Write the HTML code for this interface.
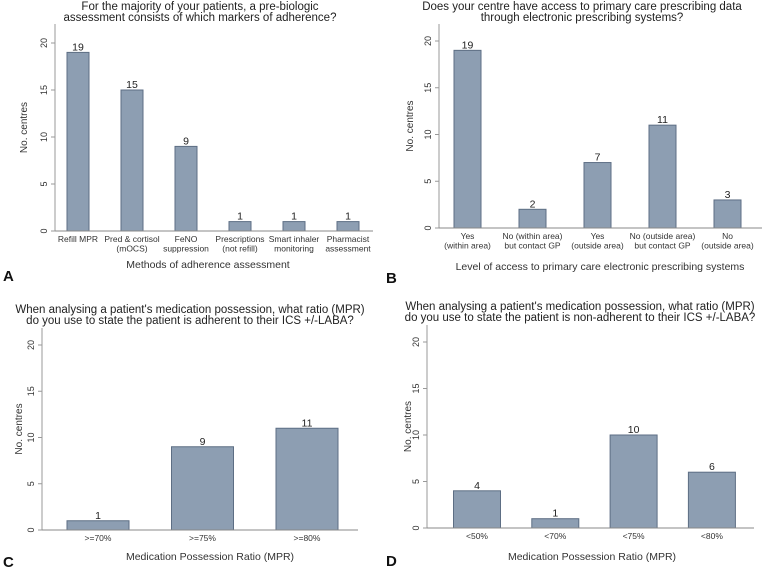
<!DOCTYPE html>
<html><head><meta charset="utf-8">
<style>
body{margin:0;background:#fff;}
svg{display:block;font-family:"Liberation Sans",Arial,sans-serif;}
</style></head>
<body>
<svg id="c" width="764" height="570" viewBox="0 0 764 570" xmlns="http://www.w3.org/2000/svg"></svg>
<script>
const catsA = [["Refill MPR"],["Pred & cortisol","(mOCS)"],["FeNO","suppression"],["Prescriptions","(not refill)"],["Smart inhaler","monitoring"],["Pharmacist","assessment"]];
const valsA = [19,15,9,1,1,1];
const catsB = [["Yes","(within area)"],["No (within area)","but contact GP"],["Yes","(outside area)"],["No (outside area)","but contact GP"],["No","(outside area)"]];
const valsB = [19,2,7,11,3];
const catsC = [[">=70%"],[">=75%"],[">=80%"]];
const valsC = [1,9,11];
const catsD = [["<50%"],["<70%"],["<75%"],["<80%"]];
const valsD = [4,1,10,6];
const ticks = [0,5,10,15,20];

const NS="http://www.w3.org/2000/svg";
const svg=document.getElementById('c');
function mk(tag,attrs,parent,text){const e=document.createElementNS(NS,tag);for(const k in attrs)e.setAttribute(k,attrs[k]);if(text!==undefined)e.textContent=text;(parent||svg).appendChild(e);return e;}

function panel(p){
  const g=mk('g',{});
  
  
  const y=v=>p.base-(p.base-p.y20)*v/20;
  // title
  p.title.forEach((t,i)=>{const e=mk('text',{x:p.tx,y:p.ty+i*11,'text-anchor':'middle','font-size':11.5,fill:'#222'},g,t);
    });
  // y axis
  const ax=mk('line',{x1:p.ax,x2:p.ax,y1:p.top,y2:p.base,stroke:'#999','stroke-width':1},g);
  
  ticks.forEach(t=>{
    mk('line',{x1:p.ax-4,x2:p.ax,y1:y(t),y2:y(t),stroke:'#999'},g);
    const e=mk('text',{x:p.ax-8,y:y(t),'font-size':9,fill:'#333','text-anchor':'middle',transform:`rotate(-90 ${p.ax-8} ${y(t)})`},g,String(t));
    
  });
  const yt=mk('text',{x:p.ytx,y:(p.top+p.base)/2,'font-size':10,fill:'#333','text-anchor':'middle',transform:`rotate(-90 ${p.ytx} ${(p.top+p.base)/2})`},g,'No. centres');
  
  // bars
  p.vals.forEach((v,i)=>{
    const cx=p.x0+p.step*i;
    const r=mk('rect',{x:cx-p.bw/2,y:y(v),width:p.bw,height:p.base-y(v),fill:'#8d9eb2',stroke:'#5d6e84','stroke-width':1},g);
    
    const l=mk('text',{x:cx,y:y(v)-2,'text-anchor':'middle','font-size':10.5,fill:'#222'},g,String(v));
    
    p.cats[i].forEach((c,j)=>{const e=mk('text',{x:cx,y:p.base+11+j*9.5,'text-anchor':'middle','font-size':p.cfs,fill:'#333'},g,c);
      });
  });
  const bl=mk('line',{x1:p.ax,x2:p.bx2,y1:p.base,y2:p.base,stroke:'#888','stroke-width':1},g);
  
  const xt=mk('text',{x:p.xtx,y:p.xty,'text-anchor':'middle','font-size':10.5,fill:'#333'},g,p.xtitle);
  
  const L=mk('text',{x:p.lx,y:p.ly,'font-size':15,'font-weight':'bold',fill:'#111'},g,p.id.toUpperCase());
  
}

panel({id:'a',vals:valsA,cats:catsA,ax:55,base:231,y20:43,top:24,x0:78,step:54,bw:22,bx2:373,cfs:8.5,
  title:["For the majority of your patients, a pre-biologic","assessment consists of which markers of adherence?"],tx:200,ty:10,
  ytx:27,xtitle:"Methods of adherence assessment",xtx:208,xty:268,lx:3,ly:281});
panel({id:'b',vals:valsB,cats:catsB,ax:439,base:228,y20:41,top:24,x0:467.5,step:65,bw:27,bx2:762,cfs:8.5,
  title:["Does your centre have access to primary care prescribing data","through electronic prescribing systems?"],tx:582,ty:10,
  ytx:413,xtitle:"Level of access to primary care electronic prescribing systems",xtx:600,xty:270,lx:386,ly:283});
panel({id:'c',vals:valsC,cats:catsC,ax:42,base:530,y20:345,top:328,x0:98,step:104.5,bw:62,bx2:358,cfs:8.5,
  title:["When analysing a patient's medication possession, what ratio (MPR)","do you use to state the patient is adherent to their ICS +/-LABA?"],tx:190,ty:313,
  ytx:22,xtitle:"Medication Possession Ratio (MPR)",xtx:210,xty:560,lx:3,ly:567});
panel({id:'d',vals:valsD,cats:catsD,ax:427,base:528,y20:342,top:325,x0:477,step:78.3,bw:47,bx2:754,cfs:8.5,
  title:["When analysing a patient's medication possession, what ratio (MPR)","do you use to state the patient is non-adherent to their ICS +/-LABA?"],tx:580,ty:310,
  ytx:411,xtitle:"Medication Possession Ratio (MPR)",xtx:592,xty:560,lx:386,ly:566});
</script>
</body></html>
